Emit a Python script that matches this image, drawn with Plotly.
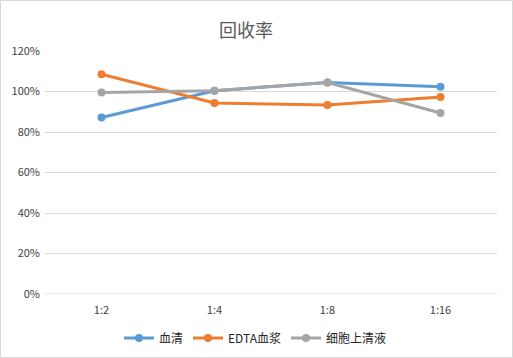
import plotly.graph_objects as go

categories = ["1:2", "1:4", "1:8", "1:16"]
serum = [87.2, 100.4, 104.4, 102.4]
edta_plasma = [108.5, 94.3, 93.3, 97.3]
supernatant = [99.5, 100.4, 104.4, 89.4]
y_ticks = [0, 20, 40, 60, 80, 100, 120]
y_tick_labels = [f"{v}%" for v in y_ticks]

series = [
    ("血清", serum, "#5B9BD5"),
    ("EDTA血浆", edta_plasma, "#ED7D31"),
    ("细胞上清液", supernatant, "#A5A5A5"),
]

fig = go.Figure()
for name, vals, color in series:
    fig.add_trace(go.Scatter(
        x=categories, y=vals, name=name, mode="lines+markers",
        line=dict(color=color, width=3),
        marker=dict(color=color, size=8),
    ))

W, H = 513, 358
ml, mr, mt, mb = 45, 16, 51, 64
pw, ph = W - ml - mr, H - mt - mb

font_cjk = "Noto Sans CJK SC, Liberation Sans, sans-serif"

fig.update_layout(
    width=W, height=H,
    margin=dict(l=ml, r=mr, t=mt, b=mb, autoexpand=False),
    paper_bgcolor="white", plot_bgcolor="white",
    font=dict(family=font_cjk, size=11, color="#595959"),
    title=dict(text="回收率", x=246 / W, xanchor="center", y=1 - 31 / H, yanchor="middle",
               font=dict(size=18, color="#595959", family=font_cjk)),
    showlegend=True,
    legend=dict(orientation="h", xref="container", yref="container",
                x=255 / W, xanchor="center", y=1 - 338 / H, yanchor="middle",
                font=dict(size=12, color="#262626"), itemwidth=30,
                tracegroupgap=0),
    xaxis=dict(type="category", range=[-0.5, 3.5], showgrid=False, showline=False,
               zeroline=False, ticks="", automargin=False, ticklabelstandoff=8,
               tickfont=dict(size=11, color="#404040")),
    yaxis=dict(range=[0, 120], tickvals=y_ticks, ticktext=y_tick_labels,
               showgrid=True, gridcolor="#D9D9D9", gridwidth=1, zeroline=False,
               showline=False, ticks="", automargin=False, ticklabelstandoff=4,
               tickfont=dict(size=11, color="#404040")),
    shapes=[
        dict(type="line", xref="paper", yref="y", x0=0, x1=1, y0=0, y1=0,
             line=dict(color="#D9D9D9", width=1)),
        dict(type="rect", xref="paper", yref="paper",
             x0=-(ml - 0.5) / pw, x1=(W - 0.5 - ml) / pw,
             y0=-(mb - 0.5) / ph, y1=1 + (mt - 0.5) / ph,
             line=dict(color="#D9D9D9", width=1), fillcolor="rgba(0,0,0,0)"),
    ],
)

fig.write_html(
    "out.html",
    config={"displayModeBar": False},
    post_script="document.body.style.margin='0';document.body.style.padding='0';document.body.style.overflow='hidden';",
)
